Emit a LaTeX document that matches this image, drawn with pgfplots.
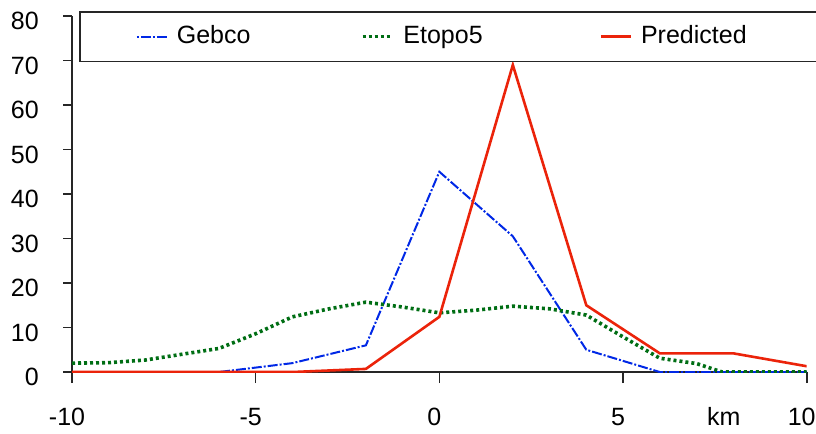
\documentclass[border=0pt]{standalone}
\usepackage{fontspec}
\setmainfont{Liberation Sans}
\usepackage{pgfplots}
\pgfplotsset{compat=1.18}

\definecolor{gebco}{RGB}{0,40,230}
\definecolor{etopo}{RGB}{0,110,20}
\definecolor{pred}{RGB}{235,35,10}

\begin{document}
\fontsize{12.5}{15}\selectfont
\begin{tikzpicture}
\begin{axis}[
  name=ax,
  scale only axis, width=367.3pt, height=178pt,
  xmin=-10, xmax=10, ymin=0, ymax=80,
  axis x line=bottom, axis y line=left,
  axis line style={-, line width=0.9pt, black!85},
  tick align=outside,
  xtick={-10,-5,0,5,10}, xticklabels={-10,-5,0,5,10},
  ytick={0,10,...,80},
  minor tick num=0,
  tick style={black!85, line width=0.8pt},
  xtick style={/pgfplots/major tick length=5.5pt},
  ytick style={/pgfplots/major tick length=4.5pt},
  /pgf/number format/assume math mode=true,
  ticklabel style={font=\fontsize{12.5}{15}\selectfont},
  xticklabel style={yshift=-9.5pt, xshift=-2.5pt},
  yticklabel style={xshift=-8pt, yshift=-2.5pt},
  xlabel={km},
  xlabel style={at={(axis cs:7.74,0)}, anchor=center, yshift=-22pt},
  legend columns=3,
  legend image code/.code={\draw[#1] (0pt,0pt) -- (15pt,0pt);},
  legend style={at={(0.0095,1.014)}, anchor=north west,
    draw=black!85, line width=0.8pt, fill=white,
    inner xsep=28pt, inner ysep=6.5pt,
    nodes={inner sep=0pt, text depth=0.2em, text height=0.75em,
      font=\fontsize{12.5}{15}\selectfont},
    /tikz/every odd column/.append style={column sep=4.5pt}},
]
  % Gebco
  \addplot[gebco, line width=1pt, dash pattern=on 1pt off 1pt on 5pt off 1pt]
    coordinates {(-10,0) (-8,0) (-6,0) (-4,2) (-2,6) (0,45) (2,30.5) (4,5) (6,0) (8,0) (10,0)};
  \addlegendentry{\makebox[92pt][l]{Gebco}}
  % Etopo5
  \addplot[etopo, line width=1.8pt, dash pattern=on 1.5pt off 1.5pt]
    coordinates {(-10,2) (-9,2.1) (-8,2.7) (-7,4) (-6,5.3) (-5,8.6) (-4,12.4)
      (-3,14.2) (-2,15.7) (-1,14.6) (0,13.3) (1,13.9) (2,14.8) (3,14.2)
      (4,12.8) (5,7.9) (6,3.1) (7,1.9) (7.7,0) (8,0) (9,0) (10,0)};
  \addlegendentry{\makebox[98pt][l]{Etopo5}}
  % Predicted
  \addplot[pred, line width=1.3pt]
    coordinates {(-10,0) (-8,0) (-6,0) (-4,0) (-2,0.7) (0,12.4) (2,69) (4,15) (6,4.2) (8,4.2) (10,1.3)};
  \addlegendentry{\makebox[61.5pt][l]{Predicted}}
\end{axis}
\pgfresetboundingbox
\path ([shift={(-36pt,-30.5pt)}]ax.south west) rectangle ([shift={(4.65pt,8pt)}]ax.north east);
\end{tikzpicture}
\end{document}
